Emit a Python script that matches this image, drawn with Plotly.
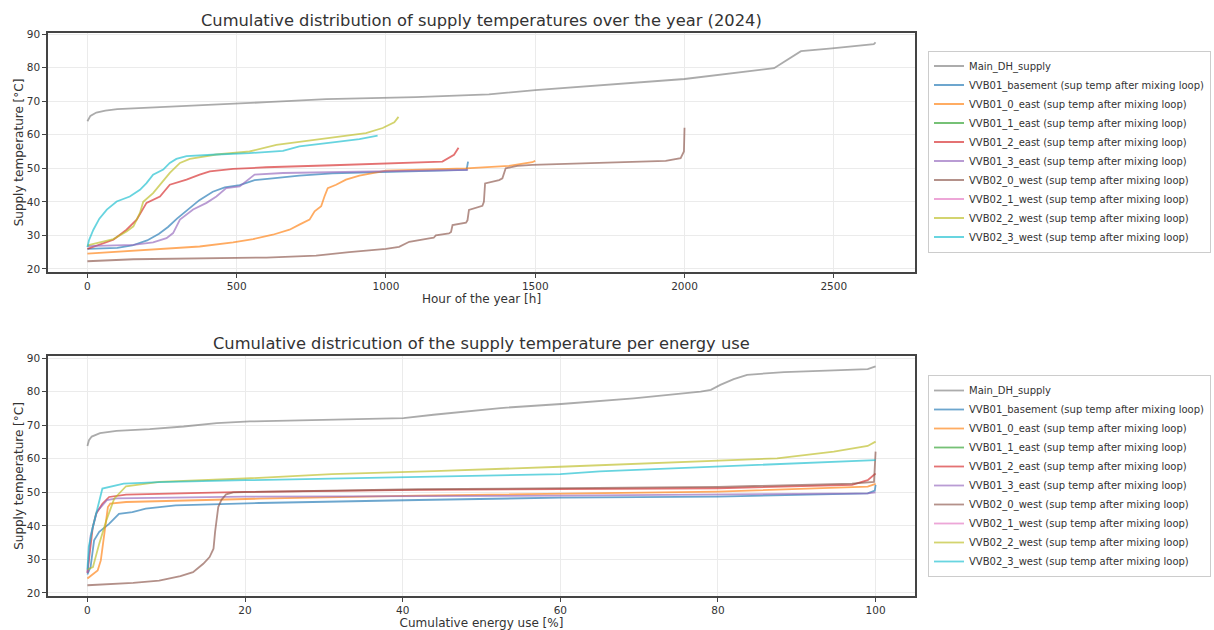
import plotly.graph_objects as go

# ---------------- data ----------------
series_names = [
    "Main_DH_supply",
    "VVB01_basement (sup temp after mixing loop)",
    "VVB01_0_east (sup temp after mixing loop)",
    "VVB01_1_east (sup temp after mixing loop)",
    "VVB01_2_east (sup temp after mixing loop)",
    "VVB01_3_east (sup temp after mixing loop)",
    "VVB02_0_west (sup temp after mixing loop)",
    "VVB02_1_west (sup temp after mixing loop)",
    "VVB02_2_west (sup temp after mixing loop)",
    "VVB02_3_west (sup temp after mixing loop)",
]
series_colors = ["#7f7f7f", "#1f77b4", "#ff7f0e", "#2ca02c", "#d62728",
                 "#9467bd", "#8c564b", "#e377c2", "#bcbd22", "#17becf"]

# --- top chart: hour of the year vs supply temperature ---
main_hours = [0, 10, 30, 60, 100, 200, 300, 500, 600, 800, 1000, 1100, 1345, 1500, 2000, 2300, 2330, 2390, 2494, 2634, 2640]
main_temp_h = [64.0, 65.6, 66.6, 67.2, 67.6, 68.0, 68.5, 69.1, 69.7, 70.6, 71.0, 71.2, 72.0, 73.3, 76.6, 79.8, 81.5, 84.9, 85.7, 87.0, 87.5]

basement_hours = [0, 100, 150, 200, 240, 270, 300, 340, 375, 420, 460, 510, 560, 620, 710, 820, 1000, 1150, 1270, 1273, 1275]
basement_temp_h = [26.0, 26.3, 27.0, 28.5, 30.5, 32.5, 35.0, 38.0, 40.5, 43.0, 44.3, 45.0, 46.5, 47.0, 47.8, 48.5, 48.9, 49.2, 49.5, 51.0, 52.0]

e0_hours = [0, 154, 265, 376, 488, 555, 621, 677, 710, 744, 761, 783, 794, 805, 833, 866, 911, 955, 1000, 1267, 1412, 1490, 1500]
e0_temp_h = [24.6, 25.4, 26.0, 26.7, 27.9, 28.9, 30.2, 31.7, 33.2, 34.7, 37.2, 38.7, 41.6, 44.1, 45.1, 46.6, 47.8, 48.6, 49.3, 50.0, 50.7, 51.8, 52.2]

e1_hours = [None]
e1_temp_h = [None]

e2_hours = [0, 42, 87, 131, 165, 198, 243, 276, 332, 376, 410, 488, 599, 822, 1000, 1189, 1228, 1243]
e2_temp_h = [26.0, 27.2, 28.7, 31.7, 34.7, 39.7, 41.6, 45.1, 46.6, 48.1, 49.1, 49.8, 50.3, 50.9, 51.4, 52.0, 54.0, 56.1]

e3_hours = [0, 154, 220, 265, 287, 310, 354, 399, 432, 465, 510, 532, 560, 655, 822, 1000, 1275]
e3_temp_h = [26.8, 27.2, 27.9, 29.2, 30.7, 34.7, 37.7, 39.7, 41.6, 44.1, 44.6, 46.1, 48.1, 48.6, 48.8, 49.1, 49.5]

w0_hours = [0, 154, 599, 766, 877, 1000, 1044, 1078, 1145, 1160, 1167, 1211, 1218, 1223, 1268, 1273, 1278, 1323, 1328, 1332, 1379, 1390, 1401, 1440, 1490, 1713, 1937, 1987, 1998, 2000]
w0_temp_h = [22.3, 22.9, 23.4, 24.0, 25.0, 26.0, 26.6, 28.1, 29.1, 29.3, 30.0, 30.6, 31.0, 33.1, 33.8, 34.5, 37.6, 38.8, 40.0, 45.5, 46.5, 47.0, 50.0, 50.7, 51.0, 51.5, 52.2, 53.0, 55.0, 62.1]

w1_hours = [None]
w1_temp_h = [None]

w2_hours = [0, 42, 87, 131, 154, 176, 187, 220, 254, 276, 310, 343, 432, 543, 633, 766, 877, 933, 989, 1028, 1042]
w2_temp_h = [27.0, 27.9, 28.9, 31.2, 32.7, 36.7, 40.0, 42.6, 46.1, 48.6, 51.6, 52.8, 54.1, 55.0, 57.0, 58.5, 59.7, 60.5, 62.0, 63.7, 65.3]

w3_hours = [0, 5, 20, 40, 65, 98, 142, 176, 198, 220, 254, 276, 298, 332, 432, 543, 655, 710, 822, 911, 972]
w3_temp_h = [26.5, 28.5, 31.7, 35.0, 37.7, 40.1, 41.6, 43.6, 45.6, 48.1, 49.6, 51.6, 52.8, 53.6, 54.1, 54.5, 55.2, 56.5, 57.7, 58.7, 59.7]

# --- bottom chart: cumulative energy use [%] vs supply temperature ---
main_pct = [0, 0.2, 0.55, 1.6, 3.7, 7.9, 12.2, 16.4, 20.6, 27, 35.4, 40.1, 43.9, 52.4, 60.1, 69.3, 77.8, 79.1, 80.3, 82.0, 83.7, 88.4, 94.7, 99.0, 100]
main_temp_p = [63.8, 65.5, 66.6, 67.6, 68.3, 68.8, 69.6, 70.6, 71.1, 71.4, 71.8, 72.1, 73.1, 75.1, 76.3, 78.0, 80.0, 80.5, 82.0, 83.7, 85.0, 85.8, 86.3, 86.7, 87.5]

basement_pct = [0, 0.4, 0.85, 1.5, 2.75, 4.0, 5.7, 7.4, 11.2, 21.8, 42, 60, 80, 99, 99.9, 100]
basement_temp_p = [25.5, 27.7, 35.7, 38.2, 40.6, 43.6, 44.1, 45.1, 46.1, 46.8, 47.7, 48.4, 48.7, 49.7, 50.5, 52.2]

e0_pct = [0, 0.2, 1.3, 1.7, 2.16, 2.6, 2.9, 4.9, 21.8, 42, 80, 99, 100]
e0_temp_p = [24.3, 24.7, 26.7, 29.7, 37.6, 45.6, 46.6, 47.1, 48.1, 49.0, 50.2, 51.7, 52.5]

e1_pct = [None]
e1_temp_p = [None]

e2_pct = [0, 0.2, 0.68, 1.1, 1.9, 2.75, 4.9, 20, 42, 80, 97, 99, 100]
e2_temp_p = [26.0, 30.0, 39.6, 43.6, 46.6, 48.6, 49.3, 50.1, 50.7, 51.2, 52.2, 53.6, 55.6]

e3_pct = [0, 0.4, 1.2, 2.5, 3.7, 20, 60, 99, 100]
e3_temp_p = [26.0, 37.0, 44.2, 47.7, 48.2, 48.7, 49.0, 49.7, 50.0]

w0_pct = [0, 5.8, 9.1, 11.8, 13.4, 14.7, 15.5, 16.0, 16.2, 16.6, 17.0, 17.6, 18.5, 42, 80, 97, 99.8, 100]
w0_temp_p = [22.3, 23.0, 23.7, 25.0, 26.2, 28.7, 30.7, 33.2, 38.2, 45.6, 47.7, 49.4, 50.0, 50.9, 51.6, 52.6, 53.1, 62.1]

w1_pct = [None]
w1_temp_p = [None]

w2_pct = [0, 0.7, 1.5, 2.4, 3.4, 4.9, 9.1, 20, 31, 42, 44, 60, 80, 87.5, 94.7, 99, 100]
w2_temp_p = [27.0, 27.7, 34.7, 41.6, 48.1, 51.8, 53.1, 54.1, 55.4, 56.1, 56.3, 57.6, 59.3, 60.1, 62.1, 63.8, 65.1]

w3_pct = [0, 0.17, 0.68, 1.5, 1.9, 4.6, 9.1, 20, 42, 60, 65, 80, 90.5, 100]
w3_temp_p = [27.0, 33.7, 39.6, 47.6, 51.1, 52.6, 53.0, 53.6, 54.6, 55.4, 56.2, 57.6, 58.6, 59.6]

top_x = [main_hours, basement_hours, e0_hours, e1_hours, e2_hours, e3_hours, w0_hours, w1_hours, w2_hours, w3_hours]
top_y = [main_temp_h, basement_temp_h, e0_temp_h, e1_temp_h, e2_temp_h, e3_temp_h, w0_temp_h, w1_temp_h, w2_temp_h, w3_temp_h]
bot_x = [main_pct, basement_pct, e0_pct, e1_pct, e2_pct, e3_pct, w0_pct, w1_pct, w2_pct, w3_pct]
bot_y = [main_temp_p, basement_temp_p, e0_temp_p, e1_temp_p, e2_temp_p, e3_temp_p, w0_temp_p, w1_temp_p, w2_temp_p, w3_temp_p]

top_title = "Cumulative distribution of supply temperatures over the year (2024)"
bot_title = "Cumulative districution of the supply temperature per energy use"
top_xlabel = "Hour of the year [h]"
bot_xlabel = "Cumulative energy use [%]"
ylabel = "Supply temperature [°C]"

# ---------------- figure ----------------
W, H = 1214, 630
FONT = "DejaVu Sans"
TXT = "#333333"

fig = go.Figure()
for name, col, xs, ys in zip(series_names, series_colors, top_x, top_y):
    fig.add_trace(go.Scatter(x=xs, y=ys, name=name, mode="lines",
                             line=dict(color=col, width=1.8), opacity=0.65,
                             xaxis="x", yaxis="y", legend="legend"))
for name, col, xs, ys in zip(series_names, series_colors, bot_x, bot_y):
    fig.add_trace(go.Scatter(x=xs, y=ys, name=name, mode="lines",
                             line=dict(color=col, width=1.8), opacity=0.65,
                             xaxis="x2", yaxis="y2", legend="legend2"))

x_dom = [48 / W, 915 / W]
y_top = [1 - 272 / H, 1 - 33 / H]
y_bot = [1 - 596 / H, 1 - 356 / H]

axis_common = dict(showline=True, mirror=True, linecolor="#444444", linewidth=1.5,
                   showgrid=True, gridcolor="#ebebeb", gridwidth=1, zeroline=False,
                   ticks="outside", ticklen=4, tickwidth=1, tickcolor="#444444",
                   tickfont=dict(family=FONT, size=10.5, color=TXT))
title_font = dict(size=12, family=FONT, color=TXT)

fig.update_layout(
    width=W, height=H,
    margin=dict(l=0, r=0, t=0, b=0, autoexpand=False),
    paper_bgcolor="white", plot_bgcolor="white",
    font=dict(family=FONT, color=TXT),
    xaxis=dict(domain=x_dom, anchor="y", range=[-132, 2772], tickvals=[0, 500, 1000, 1500, 2000, 2500],
               title=dict(text=top_xlabel, font=title_font, standoff=2), **axis_common),
    yaxis=dict(domain=y_top, anchor="x", range=[19.1, 90.3], tickvals=[20, 30, 40, 50, 60, 70, 80, 90],
               title=dict(text=ylabel, font=title_font, standoff=1), **axis_common),
    xaxis2=dict(domain=x_dom, anchor="y2", range=[-5, 105], tickvals=[0, 20, 40, 60, 80, 100],
                title=dict(text=bot_xlabel, font=title_font, standoff=2), **axis_common),
    yaxis2=dict(domain=y_bot, anchor="x2", range=[19.1, 90.6], tickvals=[20, 30, 40, 50, 60, 70, 80, 90],
                title=dict(text=ylabel, font=title_font, standoff=1), **axis_common),
    legend=dict(x=1211 / W, xanchor="right", y=1 - 151.5 / H, yanchor="middle",
                bordercolor="#cccccc", borderwidth=1, bgcolor="white",
                font=dict(family=FONT, size=10, color=TXT)),
    legend2=dict(x=1211 / W, xanchor="right", y=1 - 476 / H, yanchor="middle",
                 bordercolor="#cccccc", borderwidth=1, bgcolor="white",
                 font=dict(family=FONT, size=10, color=TXT)),
    annotations=[
        dict(text=top_title, x=(x_dom[0] + x_dom[1]) / 2, y=1 - 20 / H, xref="paper", yref="paper",
             xanchor="center", yanchor="middle", showarrow=False,
             font=dict(family=FONT, size=16.3, color=TXT)),
        dict(text=bot_title, x=(x_dom[0] + x_dom[1]) / 2, y=1 - 344 / H, xref="paper", yref="paper",
             xanchor="center", yanchor="middle", showarrow=False,
             font=dict(family=FONT, size=16.3, color=TXT)),
    ],
)

fig.write_html("out.html")
